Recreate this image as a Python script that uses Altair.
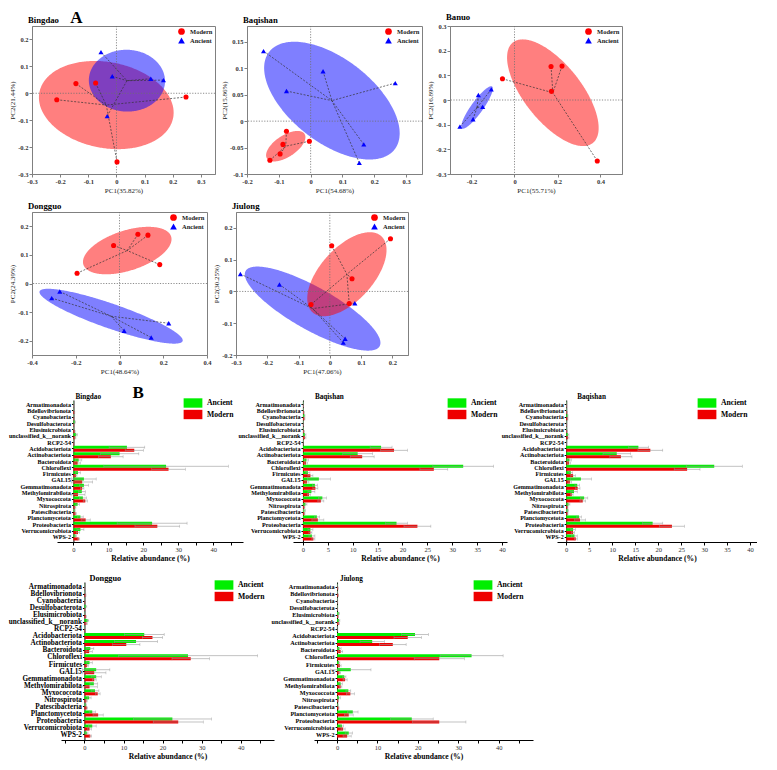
import numpy as np
import pandas as pd
import altair as alt

SERIF = "Liberation Serif"

# ---------------- PCA scores (PC1, PC2) ----------------
bingdao_modern_pc1 = [-0.212, -0.144, -0.074, 0.247, 0.002]
bingdao_modern_pc2 = [-0.024, 0.036, 0.038, -0.014, -0.255]
bingdao_ancient_pc1 = [-0.055, -0.015, 0.122, 0.167, -0.033]
bingdao_ancient_pc2 = [0.153, 0.063, 0.054, 0.049, -0.085]

baqishan_modern_pc1 = [-0.076, -0.087, -0.004, -0.096, -0.128]
baqishan_modern_pc2 = [-0.019, -0.044, -0.038, -0.062, -0.074]
baqishan_ancient_pc1 = [-0.148, -0.076, 0.039, 0.266, 0.167, 0.153]
baqishan_ancient_pc2 = [0.1325, 0.057, 0.0945, 0.072, -0.044, -0.079]

banuo_modern_pc1 = [-0.056, 0.170, 0.221, 0.172, 0.385]
banuo_modern_pc2 = [0.086, 0.136, 0.1375, 0.035, -0.247]
banuo_ancient_pc1 = [-0.254, -0.193, -0.168, -0.148, -0.108]
banuo_ancient_pc2 = [-0.108, -0.078, 0.020, -0.028, 0.043]

dongguo_modern_pc1 = [-0.194, -0.027, 0.084, 0.130, 0.184]
dongguo_modern_pc2 = [0.036, 0.133, 0.172, 0.169, 0.066]
dongguo_ancient_pc1 = [-0.273, -0.310, 0.021, 0.145, 0.225]
dongguo_ancient_pc2 = [-0.028, -0.051, -0.165, -0.189, -0.139]

jiulong_modern_pc1 = [0.006, 0.194, 0.071, 0.062, -0.060]
jiulong_modern_pc2 = [0.144, 0.166, 0.040, -0.038, -0.041]
jiulong_ancient_pc1 = [-0.286, -0.161, 0.080, 0.049, 0.043]
jiulong_ancient_pc2 = [0.055, 0.022, -0.037, -0.149, -0.161]

# ---------------- relative abundance (%) ----------------
phyla = ["Armatimonadota", "Bdellovibrionota", "Cyanobacteria", "Desulfobacterota",
         "Elusimicrobiota", "unclassified_k__norank", "RCP2-54", "Acidobacteriota",
         "Actinobacteriota", "Bacteroidota", "Chloroflexi", "Firmicutes", "GAL15",
         "Gemmatimonadota", "Methylomirabilota", "Myxococcota", "Nitrospirota",
         "Patescibacteria", "Planctomycetota", "Proteobacteria", "Verrucomicrobiota", "WPS-2"]

# Bingdao / Dongguo panels
d1_anc = [0.1, 0.1, 0.1, 0.4, 0.1, 0.8, 0.1, 15.3, 13.2, 1.5, 26.5, 1.3, 3.0, 3.0, 2.4, 2.7, 1.2, 0.3, 2.0, 22.5, 2.0, 0.6]
d1_anc_sd = [0.05, 0.05, 0.05, 0.2, 0.05, 0.3, 0.05, 5.1, 5.5, 0.9, 17.8, 0.7, 3.5, 1.3, 1.0, 1.0, 0.5, 0.2, 0.8, 10.0, 1.0, 0.3]
d1_mod = [0.1, 0.3, 0.2, 0.2, 0.4, 0.5, 0.2, 17.4, 10.7, 1.2, 27.2, 0.7, 2.5, 2.5, 1.3, 3.4, 0.5, 0.6, 3.5, 24.0, 1.3, 1.5]
d1_mod_sd = [0.05, 0.1, 0.1, 0.1, 0.1, 0.2, 0.1, 2.6, 3.5, 0.8, 4.8, 0.3, 3.0, 0.5, 2.0, 0.6, 0.2, 0.2, 1.3, 6.4, 0.5, 0.3]

# Baqishan panels
d2_anc = [0.1, 0.1, 0.3, 0.1, 0.1, 0.4, 0.1, 15.7, 11.0, 0.7, 32.2, 1.0, 3.2, 2.4, 1.7, 3.9, 0.5, 0.3, 2.8, 18.8, 1.5, 1.8]
d2_anc_sd = [0.05, 0.05, 0.1, 0.05, 0.05, 0.2, 0.05, 2.2, 3.0, 0.4, 6.1, 0.4, 2.3, 0.5, 0.7, 0.8, 0.3, 0.2, 0.5, 2.2, 0.5, 0.6]
d2_mod = [0.1, 0.2, 0.3, 0.1, 0.2, 0.4, 0.05, 18.3, 11.9, 0.6, 26.3, 1.5, 0.8, 2.5, 1.2, 3.6, 0.3, 0.3, 3.0, 23.0, 1.5, 2.1]
d2_mod_sd = [0.05, 0.1, 0.1, 0.05, 0.1, 0.2, 0.03, 2.7, 2.4, 0.3, 2.8, 0.5, 0.4, 0.5, 0.3, 0.6, 0.1, 0.1, 1.2, 2.7, 0.3, 0.3]

# Jiulong panel
d3_anc = [0.1, 0.1, 0.1, 0.1, 0.4, 0.5, 0.05, 19.3, 8.7, 0.6, 33.3, 0.5, 3.4, 1.8, 0.9, 2.8, 0.5, 0.2, 3.9, 18.5, 1.2, 2.9]
d3_anc_sd = [0.05, 0.05, 0.05, 0.05, 0.2, 0.2, 0.03, 3.3, 3.0, 0.4, 7.8, 0.2, 5.0, 0.4, 0.4, 0.6, 0.3, 0.1, 1.3, 5.3, 0.4, 0.9]
d3_mod = [0.2, 0.3, 0.1, 0.1, 0.3, 0.4, 0.05, 17.5, 13.8, 0.9, 25.3, 0.7, 0.6, 2.0, 0.9, 3.3, 0.3, 0.4, 2.9, 25.3, 1.5, 2.5]
d3_mod_sd = [0.1, 0.1, 0.05, 0.05, 0.1, 0.2, 0.03, 3.4, 3.3, 0.5, 6.2, 0.3, 0.3, 0.5, 0.3, 1.0, 0.1, 0.1, 1.1, 6.6, 0.5, 1.0]

PCA_GROUPS = ["Modern", "Ancient"]
BAR_GROUPS = ["Ancient", "Modern"]

LBL = "replace(format(datum.value, '~g'), '\u2212', '-')"

PCA_AXIS = dict(labelFont=SERIF, labelFontSize=6.5, labelFontWeight="bold", labelColor="#333333",
                titleFont=SERIF, titleFontSize=7, titleFontWeight="normal", titleColor="#222222",
                domainColor="#808080", tickColor="#808080", tickSize=3, labelPadding=1,
                titlePadding=2, grid=False, labelFlush=False, labelOverlap=False)


def ellipse_table(px, py, k=1.35, n=181):
    px = np.asarray(px, float)
    py = np.asarray(py, float)
    cx, cy = px.mean(), py.mean()
    sx, sy = px.std(ddof=1), py.std(ddof=1)
    r = np.corrcoef(px, py)[0, 1]
    t = np.linspace(0, np.pi, n)
    u = np.cos(t)
    s = np.sqrt(1 - r * r) * np.sin(t)
    return pd.DataFrame({"PC1": cx + k * sx * u,
                         "PC2": cy + k * sy * (r * u + s),
                         "PC2b": cy + k * sy * (r * u - s)})


def pca_panel(name, m1, m2, a1, a2, xdom, xvals, ydom, yvals, xtitle, ytitle, w, h, blue_on_top=True):
    pts = pd.DataFrame({"PC1": m1 + a1, "PC2": m2 + a2,
                        "Group": ["Modern"] * len(m1) + ["Ancient"] * len(a1)})
    xsc = alt.Scale(domain=xdom, nice=False, zero=False)
    ysc = alt.Scale(domain=ydom, nice=False, zero=False)
    X = alt.X("PC1:Q", scale=xsc, axis=alt.Axis(values=xvals, title=xtitle, labelExpr=LBL, **PCA_AXIS))
    Y = alt.Y("PC2:Q", scale=ysc, axis=alt.Axis(values=yvals, title=ytitle, labelExpr=LBL, **PCA_AXIS))
    red = alt.Chart(ellipse_table(m1, m2)).mark_area(color="#ff0000", opacity=0.5, clip=True).encode(
        x=X, y=Y, y2="PC2b:Q")
    blue = alt.Chart(ellipse_table(a1, a2)).mark_area(color="#0000ff", opacity=0.5, clip=True).encode(
        x=X, y=Y, y2="PC2b:Q")
    ells = [red, blue] if blue_on_top else [blue, red]
    zero = pd.DataFrame({"PC1": [0.0], "PC2": [0.0]})
    vline = alt.Chart(zero).mark_rule(color="#707070", strokeDash=[1.2, 1.5], strokeWidth=0.8).encode(x=X)
    hline = alt.Chart(zero).mark_rule(color="#707070", strokeDash=[1.2, 1.5], strokeWidth=0.8).encode(y=Y)
    spider = alt.Chart(pts).transform_joinaggregate(
        cx="mean(PC1)", cy="mean(PC2)", groupby=["Group"]
    ).mark_rule(color="#333333", strokeDash=[2, 1.5], strokeWidth=0.7).encode(
        x=X, y=Y, x2="cx:Q", y2="cy:Q")
    leg = alt.Legend(title=None, orient="top-right", offset=2, padding=0, labelFont=SERIF,
                     labelFontSize=6.5, labelFontWeight="bold", labelColor="#222222",
                     symbolSize=45, rowPadding=2, labelOffset=5, symbolStrokeWidth=0)
    points = alt.Chart(pts).mark_point(filled=True, opacity=1, size=26).encode(
        x=X, y=Y,
        color=alt.Color("Group:N", scale=alt.Scale(domain=PCA_GROUPS, range=["#ff0000", "#0000ff"]), legend=leg),
        shape=alt.Shape("Group:N", scale=alt.Scale(domain=PCA_GROUPS, range=["circle", "triangle-up"]), legend=leg),
    )
    return alt.layer(*ells, vline, hline, spider, points).properties(
        width=w, height=h,
        title=alt.TitleParams(name, anchor="start", frame="group", dx=-4, offset=1, font=SERIF,
                              fontSize=8.7, fontWeight="bold", color="black"),
        view=alt.ViewBackground(stroke="#808080", strokeWidth=1),
    )


def bar_panel(name, anc, anc_sd, mod, mod_sd, xdom, xvals, every10, w, h, labfs, title_gap, title_fs):
    n = len(phyla)
    df = pd.DataFrame({"Phylum": phyla * 2, "Group": ["Ancient"] * n + ["Modern"] * n,
                       "Mean": anc + mod, "SD": anc_sd + mod_sd})
    inset = (0 - xdom[0]) / (xdom[1] - xdom[0]) * w
    xsc = alt.Scale(domain=xdom, nice=False, zero=False)
    lab = ("datum.value >= 0 && datum.value % 10 == 0 ? datum.value : ''" if every10
           else "datum.value >= 0 ? datum.value : ''")
    xax = alt.Axis(values=xvals, title="Relative abundance (%)", labelExpr=lab, labelFont=SERIF,
                   labelFontSize=6.5, labelColor="#333333", titleFont=SERIF, titleFontSize=7.6,
                   titleFontWeight="bold", titleColor="black", domainColor="black", tickColor="black",
                   tickSize=3, labelPadding=1, titlePadding=2, grid=False, labelFlush=False,
                   labelOverlap=False)
    Y = alt.Y("Phylum:N", sort=phyla,
              scale=alt.Scale(paddingInner=0.05, paddingOuter=0.25, align=0.5),
              axis=alt.Axis(title=None, offset=-inset, labelFont=SERIF, labelFontSize=labfs,
                            labelFontWeight="bold", labelColor="black", domainColor="black",
                            tickColor="black", tickSize=2, labelPadding=1, labelOverlap=False))
    YO = alt.YOffset("Group:N", sort=BAR_GROUPS, scale=alt.Scale(domain=BAR_GROUPS))
    base = alt.Chart(df).transform_calculate(lo="datum.Mean - datum.SD", hi="datum.Mean + datum.SD")
    leg = alt.Legend(title=None, orient="none", legendX=w - 55, legendY=-2, padding=0,
                     symbolType="M-2,-1H2V1H-2Z", symbolSize=88, labelFont=SERIF,
                     labelFontSize=7.7, labelFontWeight="bold", labelColor="black",
                     labelOffset=9, rowPadding=1.5, symbolStrokeWidth=0)
    bars = base.mark_bar().encode(
        x=alt.X("Mean:Q", scale=xsc, axis=xax), x2=alt.datum(0), y=Y, yOffset=YO,
        color=alt.Color("Group:N", scale=alt.Scale(domain=BAR_GROUPS, range=["#00ee00", "#ee0000"]), legend=leg))
    err = base.mark_rule(color="#9a9a9a", strokeWidth=0.6).encode(
        x=alt.X("lo:Q", scale=xsc, axis=xax), x2="hi:Q", y=Y, yOffset=YO)
    cap_hi = base.mark_tick(color="#9a9a9a", thickness=0.6, size=3).encode(
        x=alt.X("hi:Q", scale=xsc, axis=xax), y=Y, yOffset=YO)
    cap_lo = base.mark_tick(color="#9a9a9a", thickness=0.6, size=3).encode(
        x=alt.X("lo:Q", scale=xsc, axis=xax), y=Y, yOffset=YO)
    return alt.layer(bars, err, cap_lo, cap_hi).properties(
        width=w, height=h,
        title=alt.TitleParams(name, anchor="start", frame="group", dx=inset + title_gap, offset=-2.5,
                              font=SERIF, fontSize=title_fs, fontWeight="bold", color="black"),
    )


def spacer():
    return alt.Chart(pd.DataFrame({"v": [0]})).mark_point(opacity=0).encode(
        x=alt.X("v:Q", axis=None), y=alt.Y("v:Q", axis=None)).properties(width=1, height=1)


p_bingdao = pca_panel("Bingdao", bingdao_modern_pc1, bingdao_modern_pc2, bingdao_ancient_pc1, bingdao_ancient_pc2,
                      [-0.3, 0.35], [-0.3, -0.2, -0.1, 0, 0.1, 0.2, 0.3],
                      [-0.3, 0.25], [-0.3, -0.2, -0.1, 0, 0.1, 0.2],
                      "PC1(35.82%)", "PC2(21.44%)", 183, 148, blue_on_top=True)
p_baqishan = pca_panel("Baqishan", baqishan_modern_pc1, baqishan_modern_pc2, baqishan_ancient_pc1, baqishan_ancient_pc2,
                       [-0.2, 0.35], [-0.2, -0.1, 0, 0.1, 0.2, 0.3],
                       [-0.1, 0.18], [-0.1, -0.05, 0, 0.05, 0.1, 0.15],
                       "PC1(54.68%)", "PC2(15.86%)", 175, 148)
p_banuo = pca_panel("Banuo", banuo_modern_pc1, banuo_modern_pc2, banuo_ancient_pc1, banuo_ancient_pc2,
                    [-0.3, 0.5], [-0.2, 0, 0.2, 0.4],
                    [-0.3, 0.3], [-0.3, -0.2, -0.1, 0, 0.1, 0.2, 0.3],
                    "PC1(55.71%)", "PC2(16.89%)", 172, 148)
p_dongguo = pca_panel("Dongguo", dongguo_modern_pc1, dongguo_modern_pc2, dongguo_ancient_pc1, dongguo_ancient_pc2,
                      [-0.4, 0.4], [-0.4, -0.2, 0, 0.2, 0.4],
                      [-0.25, 0.25], [-0.2, -0.1, 0, 0.1, 0.2],
                      "PC1(48.64%)", "PC2(24.39%)", 175, 143)
p_jiulong = pca_panel("Jiulong", jiulong_modern_pc1, jiulong_modern_pc2, jiulong_ancient_pc1, jiulong_ancient_pc2,
                      [-0.3, 0.25], [-0.3, -0.2, -0.1, 0, 0.1, 0.2],
                      [-0.2, 0.25], [-0.2, -0.1, 0, 0.1, 0.2],
                      "PC1(47.06%)", "PC2(30.25%)", 172, 143, blue_on_top=False)

ticks10 = [-5, 0, 5, 10, 15, 20, 25, 30, 35, 40, 45]
ticks5 = [0, 5, 10, 15, 20, 25, 30, 35, 40]

b_bingdao = bar_panel("Bingdao", d1_anc, d1_anc_sd, d1_mod, d1_mod_sd, [-4.7, 48.5], ticks10, True,
                      186, 142, 6.1, 2, 7.2)
b_baqishan = bar_panel("Baqishan", d2_anc, d2_anc_sd, d2_mod, d2_mod_sd, [-2, 41], ticks5, False,
                       214, 142, 6.1, 12, 7.2)
b_baqishan2 = bar_panel("Baqishan", d2_anc, d2_anc_sd, d2_mod, d2_mod_sd, [-2, 41.5], ticks5, False,
                        200, 142, 6.1, 11, 7.2)
b_dongguo = bar_panel("Dongguo", d1_anc, d1_anc_sd, d1_mod, d1_mod_sd, [-6, 48.5], ticks10, True,
                      213, 158, 7.2, 5, 8.3)
b_jiulong = bar_panel("Jiulong", d3_anc, d3_anc_sd, d3_mod, d3_mod_sd, [-5.7, 48.5], ticks10, True,
                      219, 158, 6.2, 3, 7.2)

IND = dict(color="independent", shape="independent")

row1 = alt.hconcat(p_bingdao, p_baqishan, p_banuo, spacing=3,
                   title=alt.TitleParams("A", anchor="start", dx=62, offset=-14, font=SERIF, fontSize=17,
                                         fontWeight="bold", color="black")).resolve_scale(**IND)
row2 = alt.hconcat(p_dongguo, p_jiulong, spacing=0).resolve_scale(**IND)

bars3 = alt.hconcat(b_bingdao, b_baqishan, b_baqishan2, spacing=-6).resolve_scale(**IND)
bars4 = alt.hconcat(b_dongguo, b_jiulong, spacing=-3).resolve_scale(**IND)

row3 = alt.hconcat(spacer(), bars3, spacing=24, bounds="flush",
                   title=alt.TitleParams("B", anchor="start", dx=124, offset=-9, font=SERIF, fontSize=17,
                                         fontWeight="bold", color="black")).resolve_scale(**IND)
row4 = alt.hconcat(spacer(), bars4, spacing=28, bounds="flush").resolve_scale(**IND)

block_a = alt.vconcat(row1, row2, spacing=7).resolve_scale(**IND)
block_b = alt.vconcat(row3, row4, spacing=11).resolve_scale(**IND)

chart = alt.vconcat(block_a, block_b, spacing=9).resolve_scale(**IND).properties(
    padding=0
).configure(font=SERIF).configure_view(strokeWidth=0).configure_axis(grid=False)

chart.save("out.html", embed_options={"renderer": "svg", "actions": False})
